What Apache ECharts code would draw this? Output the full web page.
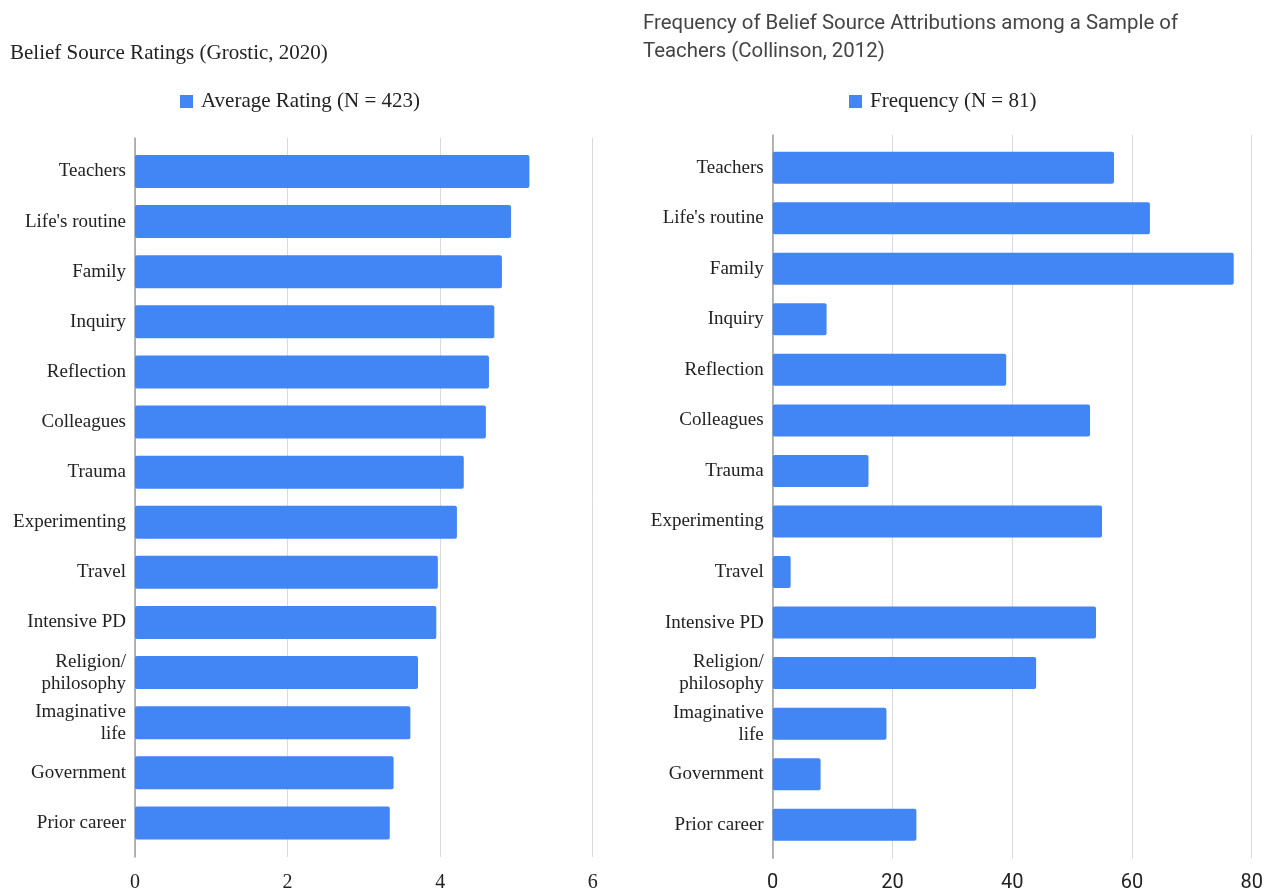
<!DOCTYPE html>
<html>
<head>
<meta charset="utf-8">
<script src="https://cdn.jsdelivr.net/npm/echarts@6/dist/echarts.min.js"></script>
<style>
html,body{margin:0;padding:0;background:#fff;}
#chart{width:1268px;height:893px;}
</style>
</head>
<body>
<div id="chart"></div>
<script>
const categories = ["Teachers","Life's routine","Family","Inquiry","Reflection","Colleagues","Trauma","Experimenting","Travel","Intensive PD","Religion/\nphilosophy","Imaginative\nlife","Government","Prior career"];
const ratings = [5.17,4.93,4.81,4.71,4.64,4.60,4.31,4.22,3.97,3.95,3.71,3.61,3.39,3.34];
const frequency = [57,63,77,9,39,53,16,55,3,54,44,19,8,24];
const leftTicks = {min:0,max:6,interval:2};
const rightTicks = {min:0,max:80,interval:20};
const leftTitle = "Belief Source Ratings (Grostic, 2020)";
const rightTitle = "Frequency of Belief Source Attributions among a Sample of\nTeachers (Collinson, 2012)";
const leftSeriesName = "Average Rating (N = 423)";
const rightSeriesName = "Frequency (N = 81)";

const SERIF = "'Liberation Serif', 'DejaVu Serif', serif";
const SANS = "Roboto, 'Noto Sans', sans-serif";
const BLUE = "#4285F4";

const chart = echarts.init(document.getElementById('chart'), null, {renderer:'canvas'});

function catAxis(gridIndex){
  return {
    type:'category', gridIndex, data:categories, inverse:true,
    axisLine:{show:false},
    axisTick:{show:false},
    axisLabel:{fontFamily:SERIF, fontSize:19, color:'#222', margin:9, lineHeight:22, align:'right', padding:[5,0,0,0]}
  };
}
function valAxis(gridIndex, t, fam, size, margin){
  return {
    type:'value', gridIndex, min:t.min, max:t.max, interval:t.interval,
    axisLine:{show:false}, axisTick:{show:false},
    splitLine:{show:false},
    axisLabel:{fontFamily:fam, fontSize:size, color:'#222', margin:margin}
  };
}
// decorative axes: grid lines and baseline spanning slightly beyond the bar area
function decoX(gridIndex, t){
  return {
    type:'value', gridIndex, min:t.min, max:t.max, interval:t.interval,
    axisLine:{show:false}, axisTick:{show:false}, axisLabel:{show:false},
    splitLine:{show:true, lineStyle:{color:'#dadada', width:1}}
  };
}
function decoY(gridIndex){
  return {
    type:'value', gridIndex, min:0, max:1,
    axisLine:{show:true, lineStyle:{color:'#9e9e9e', width:1.5}},
    axisTick:{show:false}, axisLabel:{show:false}, splitLine:{show:false}
  };
}

chart.setOption({
  animation:false,
  title:[
    {text:leftTitle, left:5, top:38, textStyle:{fontFamily:SERIF, fontSize:21, fontWeight:'normal', color:'#222'}},
    {text:rightTitle, left:638, top:5, textStyle:{fontFamily:SANS, fontSize:20.4, fontWeight:'normal', color:'#444', lineHeight:28}}
  ],
  legend:[
    {data:[leftSeriesName], left:175, top:86, itemWidth:13, itemHeight:13, icon:'rect',
     textStyle:{fontFamily:SERIF, fontSize:21, color:'#222', padding:[0,0,0,3]}},
    {data:[rightSeriesName], left:844, top:86, itemWidth:13, itemHeight:13, icon:'rect',
     textStyle:{fontFamily:SERIF, fontSize:21, color:'#222', padding:[0,0,0,3]}}
  ],
  grid:[
    {left:135, width:457.7, top:146.4, height:701.8},
    {left:772.7, width:479, top:142.4, height:708.2},
    {left:135, width:457.7, top:138, height:719},
    {left:772.7, width:479, top:135, height:723.3}
  ],
  xAxis:[
    valAxis(0, leftTicks, SERIF, 20, 25),
    valAxis(1, rightTicks, SANS, 20, 23),
    decoX(2, leftTicks),
    decoX(3, rightTicks)
  ],
  yAxis:[catAxis(0), catAxis(1), decoY(2), decoY(3)],
  series:[
    {name:leftSeriesName, type:'bar', xAxisIndex:0, yAxisIndex:0, data:ratings, barWidth:33,
     itemStyle:{color:BLUE, borderRadius:2}},
    {name:rightSeriesName, type:'bar', xAxisIndex:1, yAxisIndex:1, data:frequency, barWidth:32,
     itemStyle:{color:BLUE, borderRadius:2}}
  ]
});
</script>
</body>
</html>
